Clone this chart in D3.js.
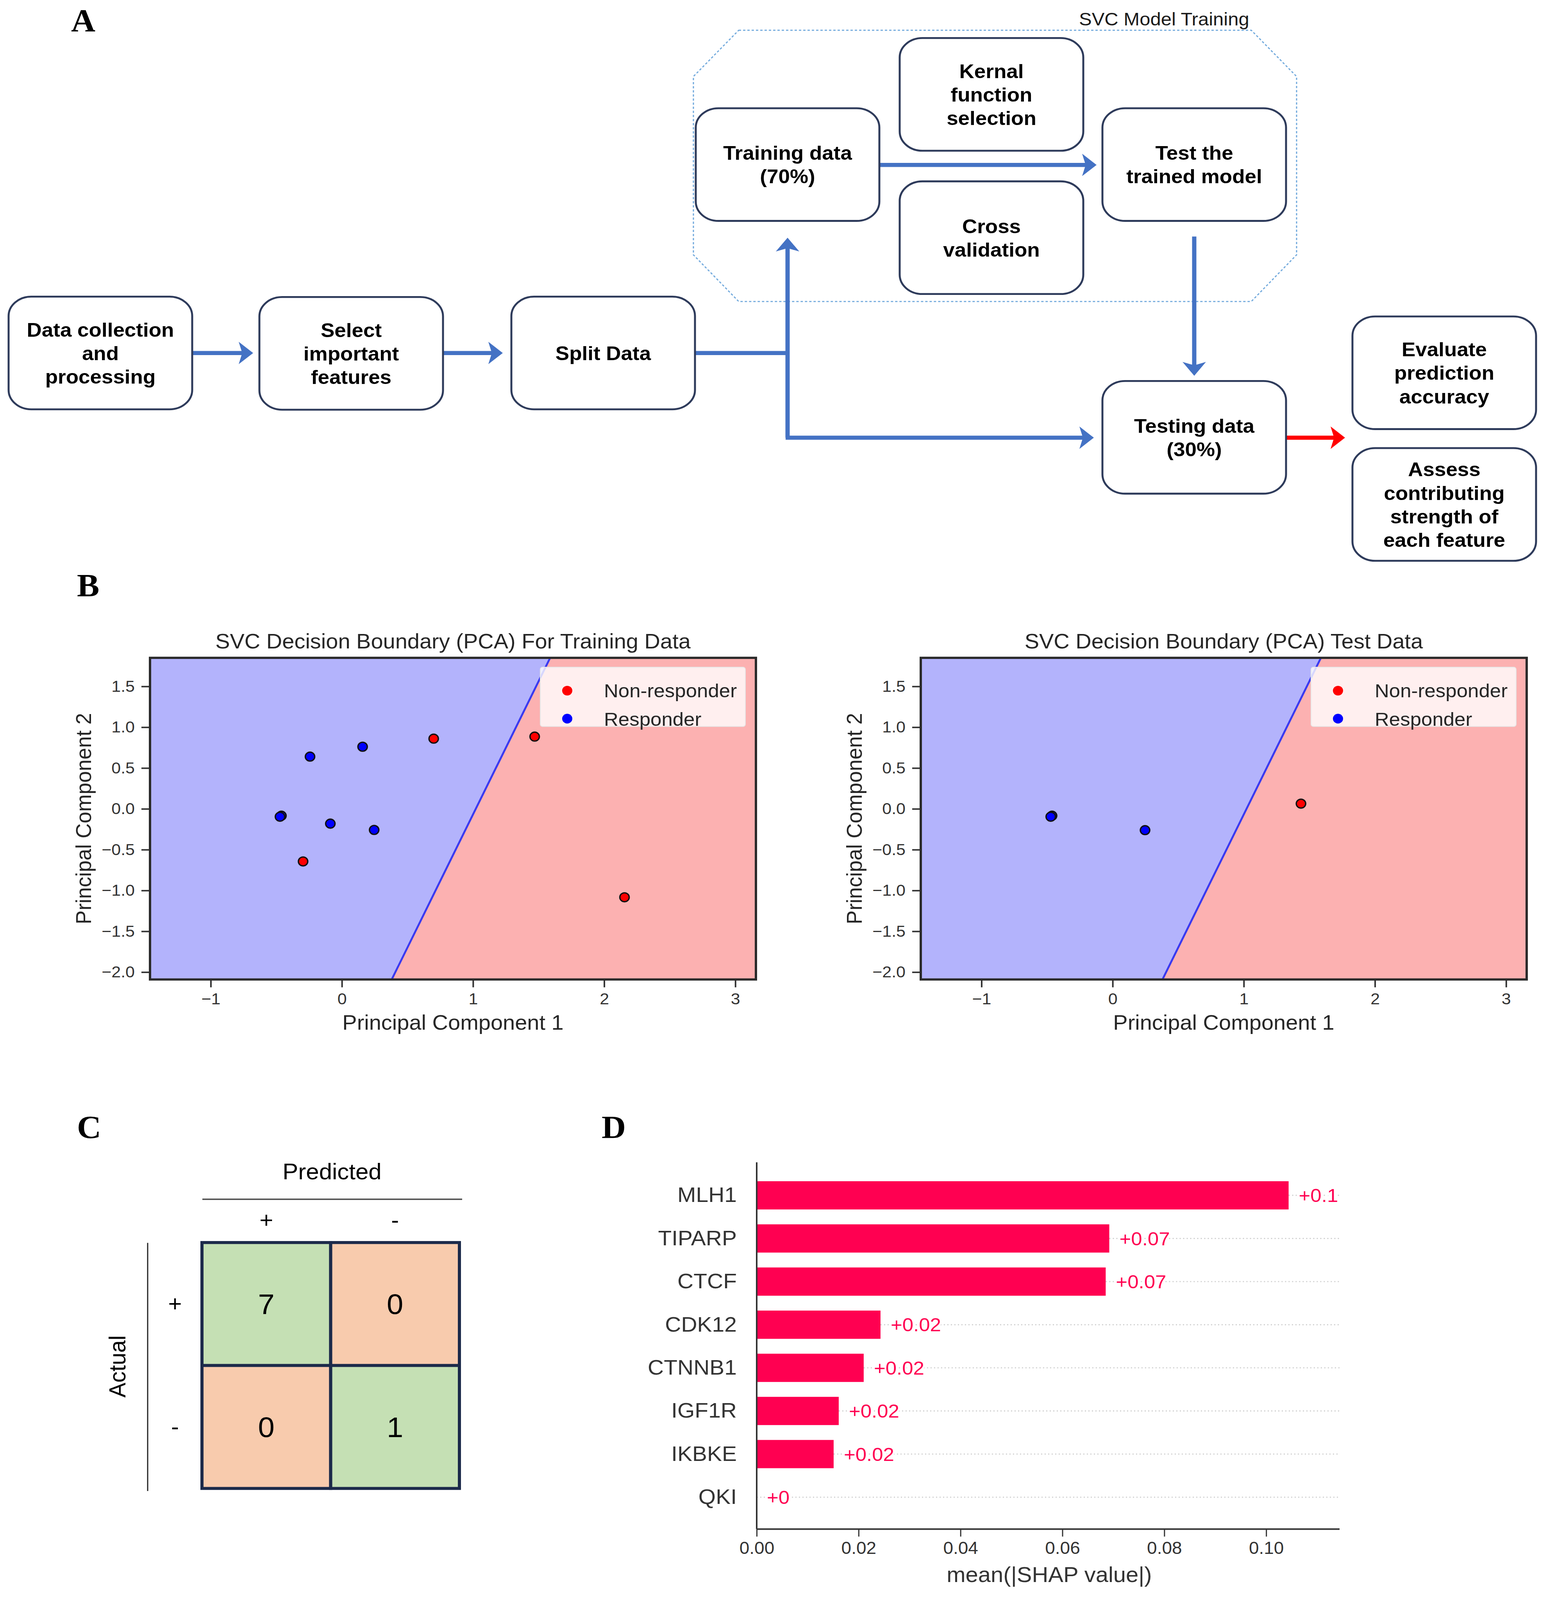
<!DOCTYPE html>
<html>
<head>
<meta charset="utf-8">
<script src="https://cdn.jsdelivr.net/npm/d3@7"></script>
<style>
  html, body { margin: 0; padding: 0; background: #fff; overflow: hidden; }
  svg { display: block; width: 100vw; height: 100vh; }
</style>
</head>
<body>
<div id="figure"></div>
<script>
/** ---------- data ---------- **/
var flowSteps = [
  { id: "collect",   lines: ["Data collection", "and", "processing"] },
  { id: "select",    lines: ["Select", "important", "features"] },
  { id: "split",     lines: ["Split Data"] },
  { id: "train",     lines: ["Training data", "(70%)"] },
  { id: "kernel",    lines: ["Kernal", "function", "selection"] },
  { id: "cv",        lines: ["Cross", "validation"] },
  { id: "testModel", lines: ["Test the", "trained model"] },
  { id: "testing",   lines: ["Testing data", "(30%)"] },
  { id: "evaluate",  lines: ["Evaluate", "prediction", "accuracy"] },
  { id: "assess",    lines: ["Assess", "contributing", "strength of", "each feature"] }
];
var groupLabel = "SVC Model Training";

var classNames = ["Non-responder", "Responder"];
var trainNonResponder = [[0.70, 0.86], [1.47, 0.885], [-0.296, -0.644], [2.155, -1.083]];
var trainResponder = [[-0.243, 0.64], [0.158, 0.761], [-0.461, -0.084], [-0.472, -0.096], [-0.088, -0.181], [0.246, -0.258]];
var testNonResponder = [[1.436, 0.064]];
var testResponder = [[-0.462, -0.084], [-0.472, -0.096], [0.247, -0.261]];
var boundaryLine = [[0.380, -2.09], [1.588, 1.85]];   // SVC decision boundary (PC1, PC2)
var pcaXDomain = [-1.463, 3.157];
var pcaYDomain = [-2.09, 1.85];
var pcaXTicks = [-1, 0, 1, 2, 3];
var pcaYTicks = [-2.0, -1.5, -1.0, -0.5, 0.0, 0.5, 1.0, 1.5];

var cmClasses = ["+", "-"];
var cmValues = [[7, 0], [0, 1]];

var shapFeatures = ["MLH1", "TIPARP", "CTCF", "CDK12", "CTNNB1", "IGF1R", "IKBKE", "QKI"];
var shapValues = [0.1044, 0.0692, 0.0685, 0.0243, 0.0210, 0.0161, 0.0151, 0.0];
var shapTicks = [0.00, 0.02, 0.04, 0.06, 0.08, 0.10];

/** ---------- setup ---------- **/
var W = 3960, H = 4288;
var SANS = "'Liberation Sans', Arial, Helvetica, sans-serif";
var SERIF = "'Liberation Serif', 'Times New Roman', serif";
// drawn in a fixed 3960x4288 space, stretched to whatever the viewport is
var svg = d3.select("#figure").append("svg")
            .attr("viewBox", "0 0 " + W + " " + H)
            .attr("preserveAspectRatio", "none");
svg.append("rect").attr("width", W).attr("height", H).attr("fill", "#fff");

function panelLetter(t, x, y) {
  svg.append("text").text(t)
     .attr("x", x).attr("y", y)
     .attr("font-family", SERIF).attr("font-weight", "bold")
     .attr("font-size", 86).attr("fill", "#000");
}
panelLetter("A", 182, 84);
panelLetter("B", 197, 1598);
panelLetter("C", 197, 3050);
panelLetter("D", 1540, 3050);

/** ---------- Panel A : workflow ---------- **/
var boxW = 470, boxH = 302;
var boxPos = {
  collect: [22, 795], select: [664, 796], split: [1309, 795],
  train: [1781, 290], kernel: [2303, 102], cv: [2303, 486], testModel: [2822, 290],
  testing: [2822, 1021], evaluate: [3462, 848], assess: [3462, 1201]
};
var flowBlue = "#4472C4";
var A = svg.append("g");

// dotted octagon around the training stage
var oct = [[1891, 81], [3203, 81], [3319, 205], [3319, 683], [3203, 808], [1891, 808], [1775, 683], [1775, 205]];
A.append("polygon")
  .attr("points", oct.map(function(p) { return p.join(","); }).join(" "))
  .attr("fill", "none").attr("stroke", "#6FA8DC")
  .attr("stroke-width", 3).attr("stroke-dasharray", "6 5");
A.append("text").text(groupLabel)
  .attr("x", 2762).attr("y", 68)
  .attr("font-family", SANS).attr("font-size", 49).attr("fill", "#1a1a1a");

function arrowHead(g, x, y, dir, color) {
  // dir: "right", "up", "down"
  var L = 37, hw = 30, notch = 9;
  var pts = [[0, 0], [-L, -hw], [-L + notch, 0], [-L, hw]];
  var ang = { right: 0, down: 90, up: -90 }[dir];
  g.append("polygon")
    .attr("points", pts.map(function(p) { return p.join(","); }).join(" "))
    .attr("transform", "translate(" + x + "," + y + ") rotate(" + ang + ")")
    .attr("fill", color);
}
function seg(g, pts, color) {
  g.append("polyline")
    .attr("points", pts.map(function(p) { return p.join(","); }).join(" "))
    .attr("fill", "none").attr("stroke", color).attr("stroke-width", 11);
}
seg(A, [[493, 946], [620, 946]], flowBlue); arrowHead(A, 648, 946, "right", flowBlue);
seg(A, [[1133, 946], [1260, 946]], flowBlue); arrowHead(A, 1287, 946, "right", flowBlue);
seg(A, [[1779, 946], [2016, 946]], flowBlue);
seg(A, [[2016, 1173], [2016, 664]], flowBlue); arrowHead(A, 2016, 637, "up", flowBlue);
seg(A, [[2011, 1173], [2773, 1173]], flowBlue); arrowHead(A, 2800, 1173, "right", flowBlue);
seg(A, [[2251, 442], [2780, 442]], flowBlue); arrowHead(A, 2807, 442, "right", flowBlue);
seg(A, [[3057, 634], [3057, 980]], flowBlue); arrowHead(A, 3057, 1007, "down", flowBlue);
seg(A, [[3292, 1173], [3416, 1173]], "#FF0000"); arrowHead(A, 3443, 1173, "right", "#FF0000");

var boxes = A.selectAll("g.box").data(flowSteps).enter().append("g")
  .attr("class", "box")
  .attr("transform", function(d) { return "translate(" + boxPos[d.id][0] + "," + boxPos[d.id][1] + ")"; });
boxes.append("rect")
  .attr("width", boxW).attr("height", boxH)
  .attr("rx", 58).attr("ry", 52)
  .attr("fill", "#fff").attr("stroke", "#2E3B5B").attr("stroke-width", 5);
boxes.each(function(d) {
  var g = d3.select(this), n = d.lines.length;
  d.lines.forEach(function(t, i) {
    g.append("text").text(t)
      .attr("x", boxW / 2)
      .attr("y", boxH / 2 + (i - (n - 1) / 2) * 63 + 19)
      .attr("text-anchor", "middle")
      .attr("font-family", SANS).attr("font-weight", "bold")
      .attr("font-size", 53).attr("fill", "#000");
  });
});

/** ---------- Panel B : decision boundary plots ---------- **/
var minus = function(v, fmt) { return d3.format(fmt)(v).replace("-", "\u2212"); };

function decisionPlot(left, top, title, nonPts, respPts, clipId) {
  var w = 1551, h = 862;
  var g = svg.append("g").attr("transform", "translate(" + left + "," + top + ")");
  var x = d3.scaleLinear().domain(pcaXDomain).range([0, w]);
  var y = d3.scaleLinear().domain(pcaYDomain).range([h, 0]);

  g.append("clipPath").attr("id", clipId).append("rect").attr("width", w).attr("height", h);
  var area = g.append("g").attr("clip-path", "url(#" + clipId + ")");

  var b0 = boundaryLine[0], b1 = boundaryLine[1];
  var xmin = pcaXDomain[0], xmax = pcaXDomain[1], ymin = pcaYDomain[0], ymax = pcaYDomain[1];
  var blue = [[xmin, ymin], [b0[0], b0[1]], [b1[0], b1[1]], [xmin, ymax]];
  var red = [[b0[0], b0[1]], [xmax, ymin], [xmax, ymax], [b1[0], b1[1]]];
  var line = d3.line().x(function(d) { return x(d[0]); }).y(function(d) { return y(d[1]); });
  area.append("path").attr("d", line(blue) + "Z").attr("fill", "#B3B3FC");
  area.append("path").attr("d", line(red) + "Z").attr("fill", "#FCB1B1");
  area.append("path").attr("d", line(boundaryLine)).attr("stroke", "#3A3AF0")
      .attr("stroke-width", 5).attr("fill", "none");

  area.selectAll("circle.non").data(nonPts).enter().append("circle")
    .attr("cx", function(d) { return x(d[0]); }).attr("cy", function(d) { return y(d[1]); })
    .attr("r", 12).attr("fill", "#FF0000").attr("stroke", "#111").attr("stroke-width", 3.5);
  area.selectAll("circle.resp").data(respPts).enter().append("circle")
    .attr("cx", function(d) { return x(d[0]); }).attr("cy", function(d) { return y(d[1]); })
    .attr("r", 12).attr("fill", "#0000FF").attr("stroke", "#111").attr("stroke-width", 3.5);

  // legend
  var lg = g.append("g").attr("transform", "translate(" + (w - 552) + ",25)");
  lg.append("rect").attr("width", 525).attr("height", 159).attr("rx", 6)
    .attr("fill", "#fff").attr("fill-opacity", 0.8).attr("stroke", "#e6e6e6").attr("stroke-width", 2);
  classNames.forEach(function(c, i) {
    lg.append("circle").attr("cx", 69).attr("cy", 63 + i * 75).attr("r", 13)
      .attr("fill", i === 0 ? "#FF0000" : "#0000FF");
    lg.append("text").text(c).attr("x", 163).attr("y", 81 + i * 76)
      .attr("font-family", SANS).attr("font-size", 51).attr("fill", "#262626");
  });

  // axes
  var xa = g.append("g").attr("transform", "translate(0," + h + ")")
    .call(d3.axisBottom(x).tickValues(pcaXTicks).tickSize(21).tickPadding(15)
            .tickFormat(function(v) { return minus(v, "d"); }));
  var ya = g.append("g")
    .call(d3.axisLeft(y).tickValues(pcaYTicks).tickSize(22).tickPadding(17)
            .tickFormat(function(v) { return minus(v, ".1f"); }));
  [xa, ya].forEach(function(a) {
    a.select(".domain").remove();
    a.selectAll(".tick line").attr("stroke", "#333").attr("stroke-width", 4);
    a.selectAll(".tick text").attr("font-family", SANS).attr("font-size", 43).attr("fill", "#333");
  });
  g.append("rect").attr("width", w).attr("height", h)
    .attr("fill", "none").attr("stroke", "#2b2b2b").attr("stroke-width", 6);

  g.append("text").text(title).attr("x", w / 2).attr("y", -25)
    .attr("text-anchor", "middle").attr("font-family", SANS).attr("font-size", 56).attr("fill", "#262626");
  g.append("text").text("Principal Component 1").attr("x", w / 2).attr("y", h + 135)
    .attr("text-anchor", "middle").attr("font-family", SANS).attr("font-size", 56).attr("fill", "#262626");
  g.append("text").text("Principal Component 2")
    .attr("transform", "translate(-151," + (h / 2) + ") rotate(-90)")
    .attr("text-anchor", "middle").attr("font-family", SANS).attr("font-size", 56).attr("fill", "#262626");
}
decisionPlot(384, 1763, "SVC Decision Boundary (PCA) For Training Data", trainNonResponder, trainResponder, "clipTrain");
decisionPlot(2357, 1763, "SVC Decision Boundary (PCA) Test Data", testNonResponder, testResponder, "clipTest");

/** ---------- Panel C : confusion matrix ---------- **/
var C = svg.append("g");
var cmX = d3.scaleBand().domain(cmClasses).range([517, 1176]);
var cmY = d3.scaleBand().domain(cmClasses).range([3330, 3989]);
cmValues.forEach(function(row, i) {
  row.forEach(function(v, j) {
    C.append("rect")
      .attr("x", cmX(cmClasses[j])).attr("y", cmY(cmClasses[i]))
      .attr("width", cmX.bandwidth()).attr("height", cmY.bandwidth())
      .attr("fill", i === j ? "#C5E0B4" : "#F8CBAD")
      .attr("stroke", "#1C2A4A").attr("stroke-width", 8);
    C.append("text").text(v)
      .attr("x", cmX(cmClasses[j]) + cmX.bandwidth() / 2)
      .attr("y", cmY(cmClasses[i]) + cmY.bandwidth() / 2 + 27)
      .attr("text-anchor", "middle").attr("font-family", SANS)
      .attr("font-size", 76).attr("fill", "#000");
  });
});
cmClasses.forEach(function(c) {
  C.append("text").text(c)
    .attr("x", cmX(c) + cmX.bandwidth() / 2).attr("y", 3290)
    .attr("text-anchor", "middle").attr("font-family", SANS).attr("font-size", 60).attr("fill", "#000");
  C.append("text").text(c)
    .attr("x", 448).attr("y", cmY(c) + cmY.bandwidth() / 2 + 20)
    .attr("text-anchor", "middle").attr("font-family", SANS).attr("font-size", 60).attr("fill", "#000");
});
C.append("text").text("Predicted").attr("x", 850).attr("y", 3160)
  .attr("text-anchor", "middle").attr("font-family", SANS).attr("font-size", 60).attr("fill", "#000");
C.append("line").attr("x1", 518).attr("x2", 1183).attr("y1", 3214).attr("y2", 3214)
  .attr("stroke", "#555").attr("stroke-width", 4);
C.append("line").attr("x1", 378).attr("x2", 378).attr("y1", 3331).attr("y2", 3996)
  .attr("stroke", "#222").attr("stroke-width", 3);
C.append("text").text("Actual")
  .attr("transform", "translate(321,3662) rotate(-90)")
  .attr("text-anchor", "middle").attr("font-family", SANS).attr("font-size", 60).attr("fill", "#000");

/** ---------- Panel D : SHAP bar plot ---------- **/
var D = svg.append("g");
var shapColor = "#FF0051";
var sx = d3.scaleLinear().domain([0, 0.1144]).range([1937, 3429]);
var sy = d3.scaleBand().domain(shapFeatures).range([3146, 4070]).paddingInner(0.345).paddingOuter(0.17);
var shapLabel = function(v) { return "+" + (+v.toFixed(2)); };

shapFeatures.forEach(function(f, i) {
  var cy = sy(f) + sy.bandwidth() / 2;
  D.append("line").attr("x1", sx(shapValues[i])).attr("x2", sx.range()[1])
    .attr("y1", cy).attr("y2", cy)
    .attr("stroke", "#cfcfcf").attr("stroke-width", 3).attr("stroke-dasharray", "3 6");
});
D.selectAll("rect.bar").data(shapValues).enter().append("rect")
  .attr("x", sx(0))
  .attr("y", function(d, i) { return sy(shapFeatures[i]); })
  .attr("width", function(d) { return sx(d) - sx(0); })
  .attr("height", sy.bandwidth())
  .attr("fill", shapColor);
D.selectAll("text.val").data(shapValues).enter().append("text")
  .text(shapLabel)
  .attr("x", function(d) { return sx(d) + 26; })
  .attr("y", function(d, i) { return sy(shapFeatures[i]) + sy.bandwidth() / 2 + 18; })
  .attr("font-family", SANS).attr("font-size", 51).attr("fill", shapColor)
  .attr("stroke", "#fff").attr("stroke-width", 10).attr("paint-order", "stroke");

var sya = D.append("g").attr("transform", "translate(" + sx(0) + ",0)")
  .call(d3.axisLeft(sy).tickSize(0).tickPadding(51));
sya.select(".domain").attr("d", "M0,3115V4098").attr("stroke", "#333").attr("stroke-width", 4);
sya.selectAll(".tick text").attr("font-family", SANS).attr("font-size", 57).attr("fill", "#333");

var sxa = D.append("g").attr("transform", "translate(0,4098)")
  .call(d3.axisBottom(sx).tickValues(shapTicks).tickSize(20).tickPadding(14).tickFormat(d3.format(".2f")));
sxa.select(".domain").attr("d", "M" + sx.range()[0] + ",0H" + sx.range()[1]).attr("stroke", "#333").attr("stroke-width", 4);
sxa.selectAll(".tick line").attr("stroke", "#333").attr("stroke-width", 3);
sxa.selectAll(".tick text").attr("font-family", SANS).attr("font-size", 46).attr("fill", "#333");
D.append("text").text("mean(|SHAP value|)").attr("x", 2686).attr("y", 4240)
  .attr("text-anchor", "middle").attr("font-family", SANS).attr("font-size", 58).attr("fill", "#333");
</script>
</body>
</html>
